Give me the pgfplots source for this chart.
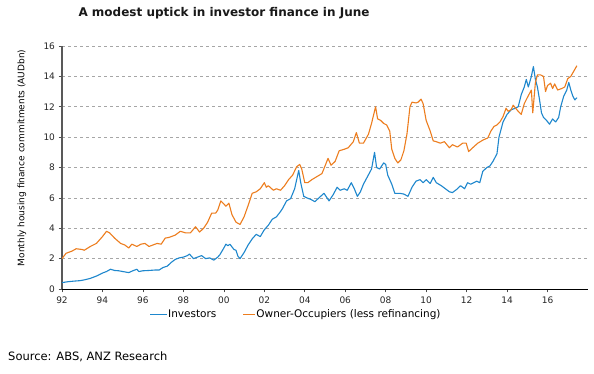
\documentclass[border=0pt]{standalone}
\usepackage{pgfplots}
\pgfplotsset{compat=1.18}
\usepackage{fontspec}
\setmainfont{DejaVu Sans}
\definecolor{invblue}{RGB}{30,135,205}
\definecolor{ooorange}{RGB}{237,125,30}
\begin{document}
\begin{tikzpicture}
\path[use as bounding box, fill=white] (0,0) rectangle (594pt,374pt);
\begin{axis}[
  at={(62pt,85pt)}, anchor=south west, scale only axis,
  width=526pt, height=243pt,
  xmin=1992, xmax=2018, ymin=0, ymax=16,
  xtick={1992,1994,...,2016},
  xticklabels={92,94,96,98,00,02,04,06,08,10,12,14,16},
  ytick={0,2,...,16},
  axis x line*=bottom, axis y line*=left,
  x axis line style={black, line width=0.8pt},
  y axis line style={black!65, line width=1.6pt},
  tick align=outside, major tick length=3.5pt,
  tick style={black!70, line width=0.6pt},
  ymajorgrids, grid style={dashed, black!35, line width=0.5pt},
  /pgf/number format/assume math mode=true,
  ticklabel style={font=\fontsize{9}{10}\selectfont, text=black!85},
  xticklabel style={yshift=-1pt},
]
\addplot[color=invblue, mark=none, line width=1.1pt, line join=round] coordinates {
(1992.0,0.42)(1992.3,0.48)(1992.6,0.52)(1992.9,0.55)(1993.1,0.6)(1993.4,0.7)
(1993.7,0.85)(1994.0,1.05)(1994.2,1.15)(1994.4,1.3)(1994.6,1.22)(1994.8,1.2)
(1995.0,1.15)(1995.3,1.08)(1995.5,1.2)(1995.7,1.3)(1995.8,1.15)(1996.0,1.2)
(1996.3,1.22)(1996.6,1.25)(1996.8,1.25)(1997.0,1.42)(1997.2,1.5)(1997.4,1.75)
(1997.6,1.95)(1997.8,2.05)(1998.0,2.1)(1998.2,2.2)(1998.3,2.3)(1998.5,2.0)
(1998.7,2.1)(1998.9,2.2)(1999.1,2.0)(1999.3,2.05)(1999.5,1.9)(1999.7,2.1)
(1999.8,2.25)(2000.0,2.7)(2000.1,2.95)(2000.2,2.85)(2000.3,2.95)(2000.5,2.6)
(2000.6,2.55)(2000.7,2.15)(2000.8,2.0)(2001.0,2.4)(2001.2,2.9)(2001.4,3.3)
(2001.6,3.6)(2001.8,3.45)(2002.0,3.9)(2002.2,4.2)(2002.4,4.6)(2002.6,4.75)
(2002.8,5.1)(2002.9,5.3)(2003.1,5.8)(2003.3,5.95)(2003.5,6.6)(2003.6,7.2)
(2003.7,7.8)(2003.8,7.0)(2003.95,6.1)(2004.1,6.0)(2004.3,5.9)(2004.5,5.75)
(2004.7,6.0)(2004.95,6.3)(2005.1,6.0)(2005.2,5.8)(2005.4,6.2)(2005.6,6.7)
(2005.75,6.5)(2005.95,6.6)(2006.1,6.5)(2006.3,7.0)(2006.45,6.6)(2006.6,6.1)
(2006.75,6.4)(2006.9,6.9)(2007.1,7.4)(2007.3,7.9)(2007.45,9.0)(2007.55,8.0)
(2007.7,7.9)(2007.9,8.3)(2008.0,8.2)(2008.1,7.5)(2008.3,6.9)(2008.45,6.3)
(2008.7,6.3)(2008.9,6.25)(2009.1,6.1)(2009.3,6.7)(2009.5,7.1)(2009.7,7.2)
(2009.85,7.0)(2010.0,7.2)(2010.2,6.95)(2010.35,7.35)(2010.5,7.0)(2010.75,6.8)
(2011.0,6.55)(2011.15,6.4)(2011.3,6.35)(2011.5,6.55)(2011.7,6.8)(2011.9,6.6)
(2012.05,7.0)(2012.2,6.9)(2012.35,7.0)(2012.5,7.1)(2012.65,7.0)(2012.8,7.75)
(2013.0,8.0)(2013.15,8.1)(2013.3,8.4)(2013.5,8.9)(2013.6,10.0)(2013.8,11.0)
(2014.0,11.5)(2014.2,11.8)(2014.4,11.9)(2014.55,12.0)(2014.7,12.8)(2014.85,13.3)
(2014.95,13.8)(2015.05,13.3)(2015.2,14.0)(2015.3,14.65)(2015.4,13.8)(2015.5,13.3)
(2015.6,12.5)(2015.7,11.6)(2015.8,11.3)(2015.95,11.1)(2016.1,10.85)(2016.25,11.2)
(2016.4,11.0)(2016.55,11.3)(2016.65,12.0)(2016.8,12.7)(2016.95,13.1)(2017.05,13.6)
(2017.15,13.1)(2017.25,12.7)(2017.35,12.45)(2017.45,12.6)
};
\addplot[color=ooorange, mark=none, line width=1.1pt, line join=round] coordinates {
(1992.0,2.0)(1992.2,2.35)(1992.5,2.5)(1992.7,2.65)(1993.0,2.6)(1993.1,2.55)
(1993.4,2.8)(1993.7,3.0)(1994.0,3.45)(1994.2,3.8)(1994.35,3.7)(1994.6,3.35)
(1994.9,3.0)(1995.1,2.9)(1995.3,2.7)(1995.45,2.95)(1995.7,2.8)(1995.9,2.95)
(1996.1,3.0)(1996.3,2.8)(1996.5,2.9)(1996.7,3.0)(1996.9,2.95)(1997.1,3.35)
(1997.3,3.4)(1997.6,3.55)(1997.85,3.8)(1998.1,3.7)(1998.35,3.7)(1998.6,4.1)
(1998.8,3.75)(1999.0,4.0)(1999.2,4.4)(1999.4,5.0)(1999.6,5.0)(1999.7,5.2)
(1999.85,5.8)(2000.0,5.6)(2000.1,5.45)(2000.25,5.65)(2000.4,4.9)(2000.6,4.4)
(2000.8,4.25)(2001.0,4.75)(2001.2,5.5)(2001.4,6.3)(2001.6,6.4)(2001.8,6.6)
(2002.0,7.0)(2002.1,6.7)(2002.2,6.8)(2002.45,6.5)(2002.6,6.6)(2002.8,6.5)
(2003.0,6.8)(2003.2,7.2)(2003.4,7.5)(2003.6,8.05)(2003.75,8.2)(2003.85,7.9)
(2004.0,7.0)(2004.15,7.0)(2004.35,7.2)(2004.6,7.4)(2004.85,7.6)(2005.15,8.6)
(2005.3,8.15)(2005.5,8.4)(2005.7,9.1)(2005.95,9.2)(2006.15,9.3)(2006.4,9.7)
(2006.55,10.3)(2006.7,9.6)(2006.9,9.6)(2007.15,10.2)(2007.3,10.9)(2007.5,12.0)
(2007.6,11.2)(2007.75,11.1)(2007.9,10.9)(2008.05,10.8)(2008.2,10.4)(2008.3,9.2)
(2008.45,8.6)(2008.6,8.3)(2008.75,8.5)(2008.9,9.1)(2009.05,10.2)(2009.2,12.0)
(2009.3,12.3)(2009.5,12.25)(2009.6,12.3)(2009.75,12.5)(2009.85,12.2)(2010.0,11.1)
(2010.2,10.4)(2010.35,9.75)(2010.5,9.7)(2010.7,9.6)(2010.9,9.7)(2011.15,9.3)
(2011.3,9.5)(2011.55,9.35)(2011.8,9.6)(2011.98,9.6)(2012.1,9.05)(2012.3,9.3)
(2012.55,9.6)(2012.8,9.8)(2013.05,9.95)(2013.2,10.4)(2013.35,10.7)(2013.5,10.8)
(2013.65,11.0)(2013.8,11.35)(2013.95,11.9)(2014.05,11.7)(2014.2,11.8)(2014.3,12.1)
(2014.55,11.7)(2014.7,11.5)(2014.85,12.2)(2015.0,12.6)(2015.2,13.1)(2015.27,11.6)
(2015.4,13.6)(2015.5,14.1)(2015.65,14.1)(2015.8,14.0)(2015.9,13.0)(2016.0,13.4)
(2016.15,13.55)(2016.25,13.2)(2016.35,13.5)(2016.5,13.1)(2016.7,13.2)(2016.85,13.3)
(2017.0,13.85)(2017.15,14.0)(2017.3,14.35)(2017.45,14.7)
};
\end{axis}
\node[anchor=west, inner sep=0pt, font=\fontsize{10.5}{12}\selectfont] at (150pt,59pt)
  {\textcolor{invblue}{\rule[0.3em]{17pt}{0.9pt}}\hspace{1pt}Investors\hspace{27pt}\textcolor{ooorange}{\rule[0.3em]{12pt}{0.9pt}}\hspace{1pt}Owner-Occupiers (less refinancing)};
\node[font=\bfseries\fontsize{12}{14}\selectfont, text=black!90] at (224pt,361pt) {A modest uptick in investor finance in June};
\node[rotate=90, font=\fontsize{9}{10}\selectfont] at (22pt,216pt) {Monthly housing finance commitments (AUDbn)};
\node[anchor=west, font=\fontsize{11.5}{13}\selectfont, inner sep=0pt] at (8pt,17pt) {Source: ABS, ANZ Research};
\end{tikzpicture}
\end{document}
